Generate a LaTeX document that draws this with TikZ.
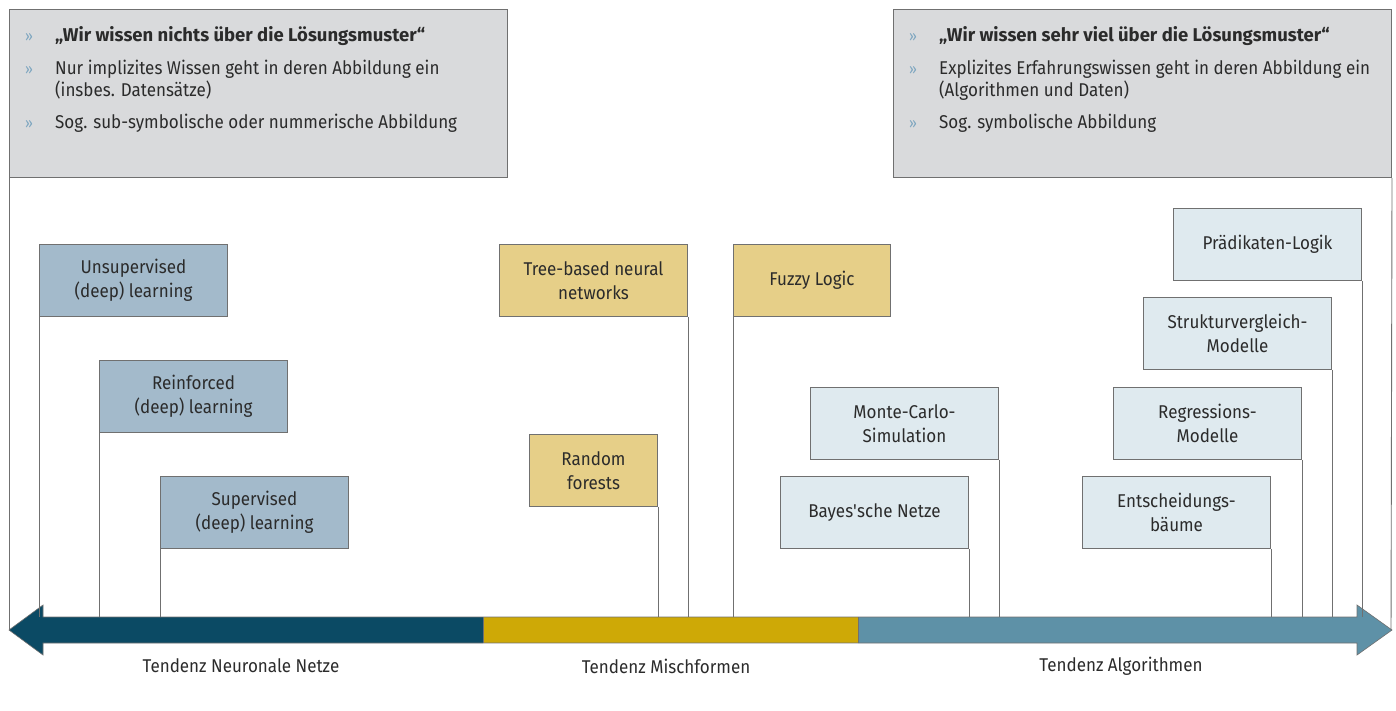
\documentclass[tikz,border=0pt]{standalone}
\usepackage{fontspec}
\setmainfont{Fira Sans}[FakeStretch=0.92, BoldFeatures={FakeStretch=1.0}]
\definecolor{darkteal}{HTML}{0B4A64}
\definecolor{mustard}{HTML}{CEA906}
\definecolor{steel}{HTML}{5E91A7}
\definecolor{nnblue}{HTML}{A3BACB}
\definecolor{mixyellow}{HTML}{E6CF88}
\definecolor{algblue}{HTML}{DFEAEF}
\definecolor{topgrey}{HTML}{D9DADC}
\definecolor{bordergrey}{HTML}{707070}
\definecolor{txt}{HTML}{2B2B2B}
\definecolor{bulletc}{HTML}{7EA6C0}
\begin{document}
\begin{tikzpicture}[x=1pt,y=-1pt,
  every node/.style={font=\fontsize{18.5}{24}\selectfont, text=txt},
  itembox/.style={draw=bordergrey, line width=1pt, minimum width=188pt, minimum height=72pt, align=center, inner sep=0pt, anchor=north west},
  nnbox/.style={itembox, fill=nnblue},
  mixbox/.style={itembox, fill=mixyellow},
  algbox/.style={itembox, fill=algblue},
  topbox/.style={draw=bordergrey, line width=1pt, fill=topgrey, minimum width=498pt, minimum height=168pt, inner sep=0pt, anchor=north west},
  bul/.style={anchor=base west, inner sep=0pt, text=bulletc, font=\fontsize{15}{18}\selectfont},
  btext/.style={anchor=base west, inner sep=0pt, align=left, font=\fontsize{18.5}{22}\selectfont},
  conn/.style={draw=bordergrey, line width=0.9pt},
  arrowseg/.style={draw=bordergrey, line width=0.6pt},
  lbl/.style={anchor=center, inner sep=0pt}
]
\useasboundingbox (0,0) rectangle (1396,710);

% top boxes
\node[topbox] (tl) at (9,9) {};
\node[topbox] (tr) at (893,9) {};

\node[bul] (tlb1) at (25,41) {»};
\node[btext] (tlt1) at (55,41) {\bfseries „Wir wissen nichts über die Lösungsmuster“};
\node[bul] (tlb2) at (25,74) {»};
\node[btext] (tlt2) at (55,96) {Nur implizites Wissen geht in deren Abbildung ein\\(insbes. Datensätze)};
\node[bul] (tlb3) at (25,128) {»};
\node[btext] (tlt3) at (55,128) {Sog. sub-symbolische oder nummerische Abbildung};

\node[bul] (trb1) at (909,41) {»};
\node[btext] (trt1) at (939,41) {\bfseries „Wir wissen sehr viel über die Lösungsmuster“};
\node[bul] (trb2) at (909,74) {»};
\node[btext] (trt2) at (939,96) {Explizites Erfahrungswissen geht in deren Abbildung ein\\(Algorithmen und Daten)};
\node[bul] (trb3) at (909,128) {»};
\node[btext] (trt3) at (939,128) {Sog. symbolische Abbildung};

% arrow
\fill[darkteal] (9,630) -- (43,605) -- (43,617) -- (483,617) -- (483,643) -- (43,643) -- (43,655) -- cycle;
\fill[mustard] (483,617) rectangle (858,643);
\fill[steel] (858,617) -- (1357,617) -- (1357,605) -- (1392,630) -- (1357,655) -- (1357,643) -- (858,643) -- cycle;
\draw[arrowseg] (9,630) -- (43,605) -- (43,617) -- (1357,617) -- (1357,605) -- (1392,630) -- (1357,655) -- (1357,643) -- (43,643) -- (43,655) -- cycle;
\draw[arrowseg] (483,617) -- (483,643);
\draw[arrowseg] (858,617) -- (858,643);

\coordinate (ltip) at (9,630);
\coordinate (rtip) at (1391,630);
\coordinate (atop) at (0,617);

% item boxes
\node[nnbox] (uns) at (39,244) {Unsupervised\\(deep) learning};
\node[nnbox] (rei) at (99,360) {Reinforced\\(deep) learning};
\node[nnbox] (sup) at (160,476) {Supervised\\(deep) learning};

\node[mixbox] (tree) at (499,244) {Tree-based neural\\networks};
\node[mixbox, minimum width=128pt] (rf) at (529,434) {Random\\forests};
\node[mixbox, minimum width=157pt] (fuzzy) at (733,244) {Fuzzy Logic};

\node[algbox] (mc) at (810,387) {Monte-Carlo-\\Simulation};
\node[algbox] (bayes) at (780,476) {Bayes\textquotesingle sche Netze};
\node[algbox] (pl) at (1173,208) {Prädikaten-Logik};
\node[algbox] (sv) at (1143,297) {Strukturvergleich-\\Modelle};
\node[algbox] (reg) at (1113,387) {Regressions-\\Modelle};
\node[algbox] (ent) at (1082,476) {Entscheidungs-\\bäume};

% connectors
\draw[conn] (tl.south west) -- (ltip);
\draw[conn] (tr.south east) -- (rtip);
\foreach \n in {uns,rei,sup,fuzzy}{
  \draw[conn] (\n.south west) -- (\n.south west |- atop);
}
\foreach \n in {tree,rf,mc,bayes,pl,sv,reg,ent}{
  \draw[conn] (\n.south east) -- (\n.south east |- atop);
}

% labels
\node[lbl] (l1) at (241,666) {Tendenz Neuronale Netze};
\node[lbl] (l2) at (666,666) {Tendenz Mischformen};
\node[lbl] (l3) at (1121,666) {Tendenz Algorithmen};
\end{tikzpicture}
\end{document}
